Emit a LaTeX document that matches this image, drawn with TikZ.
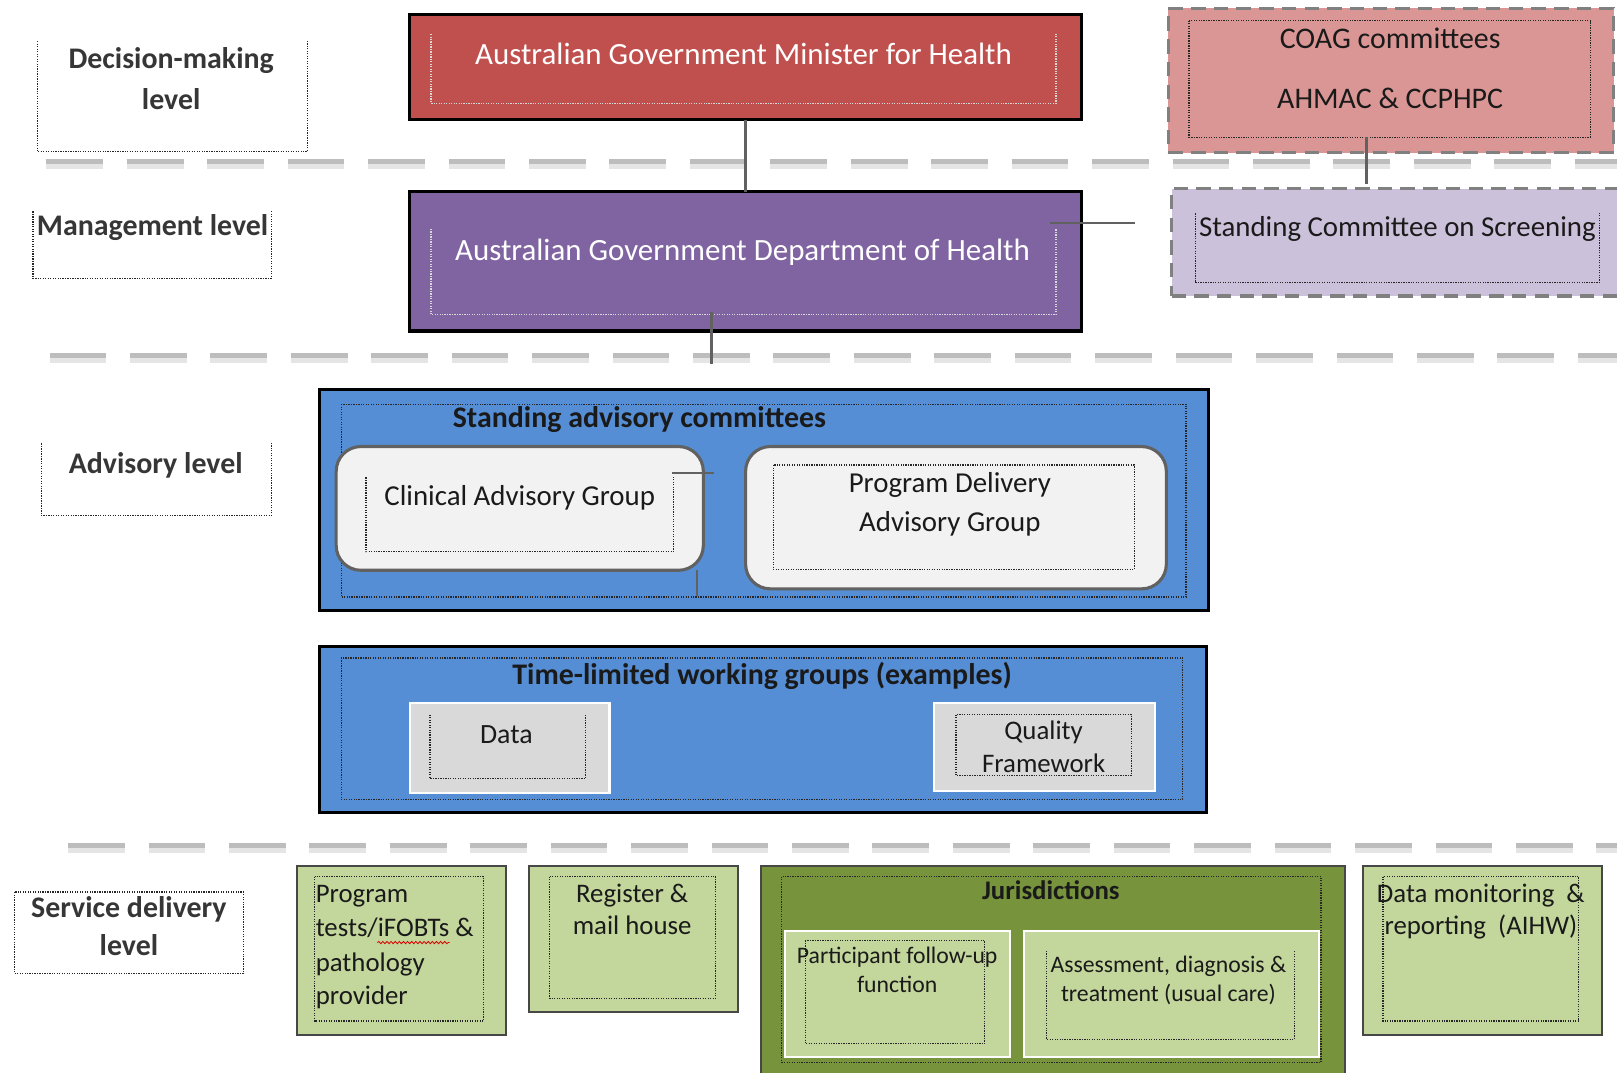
\documentclass[tikz,border=0pt]{standalone}
\usepackage{fontspec}
\setmainfont{Carlito}
\usetikzlibrary{decorations.pathmorphing}

\definecolor{minred}{HTML}{C0504D}
\definecolor{deptpurple}{HTML}{8064A2}
\definecolor{coagpink}{HTML}{D99694}
\definecolor{scslilac}{HTML}{CCC1DA}
\definecolor{advblue}{HTML}{558ED5}
\definecolor{paleg}{HTML}{F2F2F2}
\definecolor{wggray}{HTML}{D9D9D9}
\definecolor{lightgreen}{HTML}{C3D69B}
\definecolor{olive}{HTML}{77933C}
\definecolor{txt}{HTML}{1A1A1A}
\definecolor{lvltxt}{HTML}{363636}

\tikzset{
  box/.style={anchor=north west, inner sep=0pt, outer sep=0pt},
  heavybox/.style={box, draw=black, line width=3pt},
  dashbox/.style={box, draw=black!50, line width=3pt, dash pattern=on 14pt off 8pt},
  roundbox/.style={box, draw=black!62, line width=3pt, rounded corners=24pt, fill=paleg},
  whitebox/.style={box, draw=white, line width=2pt},
  greenbox/.style={box, draw=black!72, line width=2pt},
  lvlbox/.style={box},
  dotline/.style={draw=black!85, line width=1.2pt, dash pattern=on 1.2pt off 1.2pt},
  wdotline/.style={draw=white!85!black, line width=1.2pt, dash pattern=on 1.2pt off 1.2pt},
  conn/.style={draw=black!62, line width=2.2pt},
  sepcore/.style={draw=black!26, line width=5pt, dash pattern=on 55pt off 23pt},
  sepglow/.style={draw=black!10, line width=10pt, dash pattern=on 55pt off 23pt},
  lbl/.style={anchor=base, inner sep=0pt, text=txt},
  lvl/.style={anchor=base, inner sep=0pt, text=lvltxt, font=\fontsize{29}{34}\selectfont\bfseries},
  f30/.style={font=\fontsize{30}{36}\selectfont},
  f29/.style={font=\fontsize{29}{34}\selectfont},
  f28/.style={font=\fontsize{28}{34}\selectfont},
  f27/.style={font=\fontsize{27}{32}\selectfont},
  f26/.style={font=\fontsize{26}{31}\selectfont},
  f23/.style={font=\fontsize{23}{28}\selectfont},
  b29/.style={font=\fontsize{29}{34}\selectfont\bfseries},
  b26/.style={font=\fontsize{26}{31}\selectfont\bfseries},
}

\begin{document}
\begin{tikzpicture}[x=1pt,y=-1pt]
\useasboundingbox[fill=white] (0,0) rectangle (1568,1040);

% ---- level separators ----
\foreach \yy/\xs in {157/45, 345/48, 820/66} {
  \draw[sepglow] (\xs,\yy+2) -- (1600,\yy+2);
  \draw[sepcore] (\xs,\yy) -- (1600,\yy);
}

% ---- level labels ----
\node[lvlbox, minimum width=262pt, minimum height=107pt] (lv-dm) at (36,40) {};
\draw[dotline] (lv-dm.north west) -- (lv-dm.south west) -- (lv-dm.south east) -- (lv-dm.north east);
\node[lvl] (lv-dm-1) at (166,66) {Decision-making};
\node[lvl] (lv-dm-2) at (166,106) {level};

\node[lvlbox, minimum width=231pt, minimum height=65pt] (lv-mg) at (32,205) {};
\draw[dotline] (lv-mg.north west) -- (lv-mg.south west) -- (lv-mg.south east) -- (lv-mg.north east);
\node[lvl] (lv-mg-1) at (148,228) {Management level};

\node[lvlbox, minimum width=223pt, minimum height=70pt] (lv-ad) at (40,430) {};
\draw[dotline] (lv-ad.north west) -- (lv-ad.south west) -- (lv-ad.south east) -- (lv-ad.north east);
\node[lvl] (lv-ad-1) at (151,459) {Advisory level};

\node[lvlbox, minimum width=222pt, minimum height=79pt] (lv-sd) at (14,865) {};
\draw[dotline] (lv-sd.north west) rectangle (lv-sd.south east);
\node[lvl] (lv-sd-1) at (125,890) {Service delivery};
\node[lvl] (lv-sd-2) at (125,927) {level};

% ---- decision-making ----
\node[heavybox, fill=minred, minimum width=652pt, minimum height=102pt] (minister) at (397,14) {};
\draw[wdotline] (418,33) -- (418,100) -- (1024,100) -- (1024,33);
\node[lbl, f30, text=white] (minister-t) at (721,63) {Australian Government Minister for Health};

\node[dashbox, fill=coagpink, minimum width=432pt, minimum height=140pt] (coag) at (1133,8) {};
\draw[dotline] (1153,20) rectangle (1542,133);
\node[lbl, f29] (coag-t1) at (1348,47) {COAG committees};
\node[lbl, f29] (coag-t2) at (1348,105) {AHMAC \& CCPHPC};

% ---- management ----
\node[heavybox, fill=deptpurple, minimum width=652pt, minimum height=135pt] (dept) at (397,186) {};
\draw[wdotline] (418,222) -- (418,305) -- (1024,305) -- (1024,222);
\node[lbl, f30, text=white] (dept-t) at (720,253) {Australian Government Department of Health};

\node[dashbox, fill=scslilac, minimum width=440pt, minimum height=104pt] (scs) at (1136,183) {};
\draw[dotline] (1159,207) -- (1159,274) -- (1551,274) -- (1551,207);
\node[lbl, f28] (scs-t) at (1355,229) {Standing Committee on Screening};

% ---- connectors between top boxes ----
\draw[conn] (minister.south) -- (dept.north);
\coordinate (coag-stub) at (1325,133);
\coordinate (scs-stub) at (1325,178);
\draw[conn] (coag-stub) -- (scs-stub);
\coordinate (dept-east-stub) at (1018,216);
\coordinate (scs-west-stub) at (1101,216);
\draw[conn] (dept-east-stub) -- (scs-west-stub);
\coordinate (dept-low-stub) at (690,303);
\coordinate (adv-up-stub) at (690,353);
\draw[conn] (dept-low-stub) -- (adv-up-stub);

% ---- advisory: standing committees ----
\node[heavybox, fill=advblue, minimum width=862pt, minimum height=214pt] (sac) at (310,378) {};
\draw[dotline] (331,392) rectangle (1150,579);
\node[lbl, b29] (sac-t) at (620,415) {Standing advisory committees};

\node[roundbox, minimum width=356pt, minimum height=120pt] (cag) at (326,433) {};
\draw[dotline] (355,463) -- (355,535) -- (653,535) -- (653,463);
\node[lbl, f28] (cag-t) at (504,490) {Clinical Advisory Group};

\node[roundbox, minimum width=408pt, minimum height=138pt] (pdag) at (723,433) {};
\draw[dotline] (750,451) rectangle (1100,552);
\node[lbl, f28] (pdag-t1) at (921,478) {Program Delivery};
\node[lbl, f28] (pdag-t2) at (921,515) {Advisory Group};

\coordinate (cag-h1) at (652,459);
\coordinate (cag-h2) at (692,459);
\draw[conn] (cag-h1) -- (cag-h2);
\coordinate (cag-v1) at (676,553);
\coordinate (cag-v2) at (676,578);
\draw[conn] (cag-v1) -- (cag-v2);

% ---- advisory: working groups ----
\node[heavybox, fill=advblue, minimum width=860pt, minimum height=161pt] (tlwg) at (310,627) {};
\draw[dotline] (331,638) rectangle (1147,775);
\node[lbl, b29] (tlwg-t) at (739,664) {Time-limited working groups (examples)};

\node[whitebox, fill=wggray, minimum width=193pt, minimum height=87pt] (wg-data) at (398,682) {};
\draw[dotline] (417,693) -- (417,755) -- (568,755) -- (568,693);
\node[lbl, f27] (wg-data-t) at (491,721) {Data};

\node[whitebox, fill=wggray, minimum width=214pt, minimum height=85pt] (wg-qf) at (906,682) {};
\draw[dotline] (927,693) rectangle (1097,752);
\node[lbl, f26] (wg-qf-t1) at (1012,717) {Quality};
\node[lbl, f26] (wg-qf-t2) at (1012,749) {Framework};

% ---- service delivery ----
\node[greenbox, fill=lightgreen, minimum width=203pt, minimum height=164pt] (ptp) at (288,840) {};
\draw[dotline] (305,850) rectangle (469,990);
\node[lbl, f26, anchor=base west] (ptp-t1) at (306,875) {Program};
\node[lbl, f26, anchor=base west] (ptp-t2) at (306,908) {tests/iFOBTs \&};
\node[lbl, f26, anchor=base west] (ptp-t3) at (306,942) {pathology};
\node[lbl, f26, anchor=base west] (ptp-t4) at (306,974) {provider};
\draw[red!85!black, line width=0.8pt, decorate, decoration={snake, amplitude=1.1pt, segment length=4pt}] (366,914) -- (436,914);

\node[greenbox, fill=lightgreen, minimum width=203pt, minimum height=141pt] (reg) at (513,840) {};
\draw[dotline] (533,850) rectangle (694,968);
\node[lbl, f26] (reg-t1) at (613,875) {Register \&};
\node[lbl, f26] (reg-t2) at (613,906) {mail house};

\node[greenbox, fill=olive, minimum width=566pt, minimum height=230pt] (jur) at (738,840) {};
\draw[dotline] (758,850) rectangle (1281,1030);
\node[lbl, b26] (jur-t) at (1019,872) {Jurisdictions};

\node[whitebox, fill=lightgreen, minimum width=218pt, minimum height=122pt] (pfu) at (761,903) {};
\draw[dotline] (781,912) rectangle (955,1012);
\node[lbl, f23] (pfu-t1) at (870,934) {Participant follow-up};
\node[lbl, f23] (pfu-t2) at (870,962) {function};

\node[whitebox, fill=lightgreen, minimum width=286pt, minimum height=122pt] (adt) at (993,903) {};
\draw[dotline] (1015,922) -- (1015,1008) -- (1255,1008) -- (1255,922);
\node[lbl, f23] (adt-t1) at (1133,943) {Assessment, diagnosis \&};
\node[lbl, f23] (adt-t2) at (1133,971) {treatment (usual care)};

\node[greenbox, fill=lightgreen, minimum width=231pt, minimum height=164pt] (dmr) at (1322,840) {};
\draw[dotline] (1341,850) rectangle (1531,990);
\node[lbl, f26] (dmr-t1) at (1436,875) {Data monitoring~~\&};
\node[lbl, f26] (dmr-t2) at (1436,906) {reporting~~(AIHW)};

\end{tikzpicture}
\end{document}
